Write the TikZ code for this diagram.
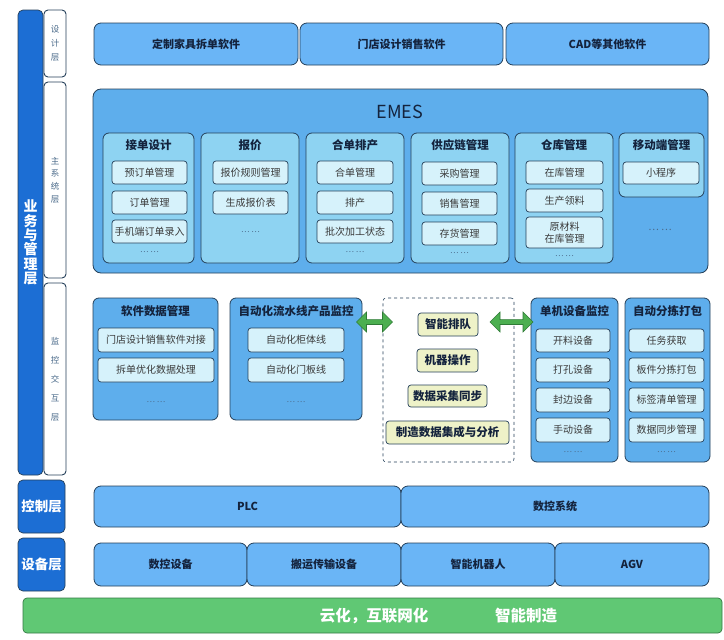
\documentclass[tikz,border=0pt]{standalone}
\usepackage{fontspec}
\setmainfont{Noto Sans CJK SC}
\usetikzlibrary{shapes.arrows}
\definecolor{darkblue}{HTML}{1C6ED4}
\definecolor{topblue}{HTML}{6AB5F6}
\definecolor{emesblue}{HTML}{5EAEEC}
\definecolor{modcyan}{HTML}{8ED3F2}
\definecolor{subcyan}{HTML}{D6F2FB}
\definecolor{edge}{HTML}{25405A}
\definecolor{ttl}{HTML}{14233D}
\definecolor{subtxt}{HTML}{3A3A3A}
\definecolor{sidetxt}{HTML}{4A6A8A}
\definecolor{ybox}{HTML}{EEF2C8}
\definecolor{gbar}{HTML}{60C874}
\definecolor{gbaredge}{HTML}{357A45}
\definecolor{agreen}{HTML}{4CAF50}
\definecolor{agreendk}{HTML}{2F7A36}
\newcommand\bx[7]{\node[#6, minimum width={(#4)-(#2)}, minimum height={(#5)-(#3)}] (#1) at ({((#2)+(#4))/2},{((#3)+(#5))/2}) {#7};}
\begin{document}
\begin{tikzpicture}[x=1pt,y=-1pt,
  every node/.style={inner sep=0pt, outer sep=0pt},
  sidebar/.style={draw=edge, fill=darkblue, rounded corners=5pt, line width=0.7pt, text=white, font=\bfseries\fontsize{13.5}{15}\selectfont, align=center},
  sidelabel/.style={draw=edge, fill=white, rounded corners=4pt, line width=0.9pt, text=sidetxt, align=center},
  bigbox/.style={draw=edge, fill=topblue, rounded corners=7pt, line width=0.8pt, text=ttl, font=\bfseries\fontsize{11}{13}\selectfont},
  emesbox/.style={draw=edge, fill=emesblue, rounded corners=8pt, line width=0.8pt},
  modbox/.style={draw=edge, fill=modcyan, rounded corners=6pt, line width=0.8pt},
  monbox/.style={draw=edge, fill=emesblue, rounded corners=6pt, line width=0.8pt},
  subbox/.style={draw=edge, fill=subcyan, rounded corners=3pt, line width=0.7pt, text=subtxt, font=\fontsize{10}{12}\selectfont, align=center},
  ybx/.style={draw=edge, fill=ybox, rounded corners=3pt, line width=0.7pt, text=ttl, font=\bfseries\fontsize{11.5}{13}\selectfont},
  title/.style={text=ttl, font=\bfseries\fontsize{11.5}{13}\selectfont},
  dots/.style={text=sidetxt, font=\fontsize{8}{9}\selectfont},
  gtext/.style={text=white, font=\bfseries\fontsize{15.5}{18}\selectfont},
  garrow/.style={double arrow, fill=agreen, draw=agreendk, line width=0.6pt, minimum width=20pt, double arrow head extend=4pt, inner sep=1pt}
]
\useasboundingbox (0,0) rectangle (724,640);
\fill[white] (0,0) rectangle (724,640);
% ---------- side labels
\bx{biz}{18}{10}{43}{475}{sidebar,font=\bfseries\fontsize{14}{14.4}\selectfont}{业\\务\\与\\管\\理\\层}
\bx{sjc}{44}{10}{66}{77}{sidelabel,font=\fontsize{8.5}{14}\selectfont}{设\\计\\层}
\bx{zxt}{44}{82}{66}{278}{sidelabel,font=\fontsize{8.5}{12.7}\selectfont}{主\\系\\统\\层}
\bx{jk}{44}{283}{66}{475}{sidelabel,font=\fontsize{8.5}{19}\selectfont}{监\\控\\交\\互\\层}
\bx{kzc}{18}{480}{65}{533}{sidebar}{控制层}
\bx{sbc}{18}{538}{65}{591}{sidebar}{设备层}
% ---------- design layer
\bx{t1}{94}{23}{298}{65}{bigbox}{定制家具拆单软件}
\bx{t2}{300}{23}{503}{65}{bigbox}{门店设计销售软件}
\bx{t3}{506}{23}{709}{65}{bigbox}{CAD等其他软件}
% ---------- EMES
\bx{emes}{93}{89}{708}{273}{emesbox}{}
\node[text=ttl, font=\fontsize{18}{20}\selectfont] (emest) at (400,112) {EMES};
% module 1
\bx{m1}{103}{133}{194}{263}{modbox}{}
\node[title] (m1t) at (148.5,145) {接单设计};
\bx{m1a}{112}{161}{187}{184}{subbox}{预订单管理}
\bx{m1b}{112}{191}{187}{214}{subbox}{订单管理}
\bx{m1c}{112}{220}{187}{243}{subbox}{手机端订单录入}
\node[dots] (m1d) at (149.5,252) {… …};
% module 2
\bx{m2}{201}{133}{299}{263}{modbox}{}
\node[title] (m2t) at (250,145) {报价};
\bx{m2a}{213}{161}{288}{184}{subbox}{报价规则管理}
\bx{m2b}{213}{191}{288}{214}{subbox}{生成报价表}
\node[dots] (m2d) at (250.5,232) {… …};
% module 3
\bx{m3}{306}{133}{404}{263}{modbox}{}
\node[title] (m3t) at (355,145) {合单排产};
\bx{m3a}{317}{161}{393}{184}{subbox}{合单管理}
\bx{m3b}{317}{191}{393}{214}{subbox}{排产}
\bx{m3c}{317}{220}{393}{243}{subbox}{批次加工状态}
\node[dots] (m3d) at (355,252) {… …};
% module 4
\bx{m4}{411}{133}{509}{263}{modbox}{}
\node[title] (m4t) at (460,145) {供应链管理};
\bx{m4a}{422}{162}{497}{185}{subbox}{采购管理}
\bx{m4b}{422}{192}{497}{215}{subbox}{销售管理}
\bx{m4c}{422}{222}{497}{245}{subbox}{存货管理}
\node[dots] (m4d) at (459.5,253) {… …};
% module 5
\bx{m5}{515}{133}{613}{263}{modbox}{}
\node[title] (m5t) at (564,145) {仓库管理};
\bx{m5a}{526}{161}{603}{184}{subbox}{在库管理}
\bx{m5b}{526}{189}{603}{212}{subbox}{生产领料}
\bx{m5c}{526}{217}{603}{248}{subbox,font=\fontsize{10}{11.5}\selectfont}{原材料\\在库管理}
\node[dots] (m5d) at (564.5,256) {… …};
% module 6
\bx{m6}{619}{133}{704}{197}{modbox}{}
\node[title] (m6t) at (661.5,145) {移动端管理};
\bx{m6a}{623}{162}{699}{184}{subbox}{小程序}
\node[dots,font=\fontsize{10}{11}\selectfont] (m6d) at (660,230) {… …};
% ---------- monitoring layer
\bx{s1}{93}{298}{218}{420}{monbox}{}
\node[title] (s1t) at (155.5,311) {软件数据管理};
\bx{s1a}{98}{328}{214}{352}{subbox}{门店设计销售软件对接}
\bx{s1b}{98}{358}{214}{382}{subbox}{拆单优化数据处理}
\node[dots] (s1d) at (156,402) {… …};
\bx{s2}{230}{298}{362}{420}{monbox}{}
\node[title] (s2t) at (296,311) {自动化流水线产品监控};
\bx{s2a}{248}{328}{344}{352}{subbox}{自动化柜体线}
\bx{s2b}{248}{358}{344}{382}{subbox}{自动化门板线}
\node[dots] (s2d) at (296,402) {… …};
\bx{dash}{383}{298}{514}{462}{draw=edge, dashed, rounded corners=3pt, line width=0.6pt}{}
\bx{y1}{418}{313}{478}{336}{ybx}{智能排队}
\bx{y2}{417}{349}{478}{372}{ybx}{机器操作}
\bx{y3}{408}{385}{487}{407}{ybx}{数据采集同步}
\bx{y4}{386}{421}{509}{444}{ybx}{制造数据集成与分析}
\bx{s3}{531}{298}{618}{462}{monbox}{}
\node[title] (s3t) at (574.5,311) {单机设备监控};
\bx{s3a}{536}{329}{610}{352}{subbox}{开料设备}
\bx{s3b}{536}{358}{610}{382}{subbox}{打孔设备}
\bx{s3c}{536}{388}{610}{412}{subbox}{封边设备}
\bx{s3d}{536}{418}{610}{442}{subbox}{手动设备}
\node[dots] (s3e) at (573,452) {… …};
\bx{s4}{625}{298}{710}{462}{monbox}{}
\node[title] (s4t) at (667.5,311) {自动分拣打包};
\bx{s4a}{629}{329}{704}{352}{subbox}{任务获取}
\bx{s4b}{629}{358}{704}{382}{subbox}{板件分拣打包}
\bx{s4c}{629}{388}{704}{412}{subbox}{标签清单管理}
\bx{s4d}{629}{418}{704}{442}{subbox}{数据同步管理}
\node[dots] (s4e) at (666.5,452) {… …};
% arrows
\node[garrow, minimum height=36pt] (arrL) at (374.5,322) {};
\node[garrow, minimum height=43pt] (arrR) at (511.5,322) {};
% ---------- control layer
\bx{plc}{94}{486}{401}{527}{bigbox}{PLC}
\bx{nc}{401}{486}{709}{527}{bigbox}{数控系统}
% ---------- device layer
\bx{d1}{94}{543}{247}{586}{bigbox}{数控设备}
\bx{d2}{247}{543}{401}{586}{bigbox}{搬运传输设备}
\bx{d3}{401}{543}{555}{586}{bigbox}{智能机器人}
\bx{d4}{555}{543}{709}{586}{bigbox}{AGV}
% ---------- green bar
\bx{gb}{23}{598}{722}{633}{draw=gbaredge, fill=gbar, rounded corners=4pt, line width=0.7pt}{}
\node[gtext] (gb1) at (374,616) {云化，互联网化};
\node[gtext] (gb2) at (526,616) {智能制造};
\end{tikzpicture}
\end{document}
